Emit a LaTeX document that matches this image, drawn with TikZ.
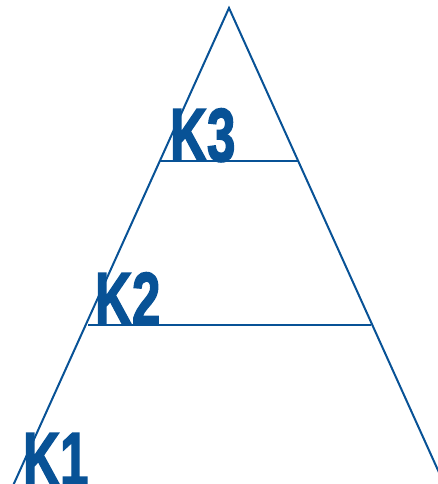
\documentclass[tikz,border=0pt]{standalone}
\usepackage{fontspec}
\setmainfont{Liberation Sans}
\newfontfamily\heavyfont[FakeBold=2.5]{Liberation Sans Bold}
\definecolor{pyr}{RGB}{8,82,150}
\begin{document}
\begin{tikzpicture}[x=1pt,y=1pt,
  edge/.style={draw=pyr,line width=2pt},
  lbl/.style={anchor=base west,inner sep=0pt,text=pyr,font=\fontsize{75}{75}\selectfont\heavyfont}]
\useasboundingbox (0,0) rectangle (438,484);
\clip (0,0) rectangle (438,484);
\coordinate (apex) at (229,476);
\coordinate (bl) at (7,-15);
\coordinate (br) at (451,-15);
\coordinate (l3) at (160,323);
\coordinate (r3) at (298,323);
\coordinate (l2) at (88,159);
\coordinate (r2) at (371,159);
\draw[edge] (bl) -- (apex) -- (br);
\draw[edge] (l3) -- (r3);
\draw[edge] (l2) -- (r2);
\node[lbl] (k3) at (170,323) {\scalebox{0.68}[1]{K3}};
\node[lbl] (k2) at (95,159) {\scalebox{0.68}[1]{K2}};
\node[lbl] (k1) at (23,-1) {\scalebox{0.68}[1]{K1}};
\end{tikzpicture}
\end{document}
